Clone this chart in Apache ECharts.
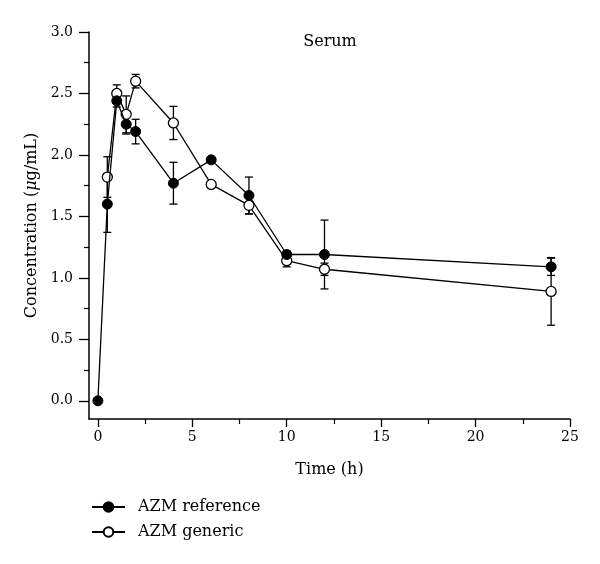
<!DOCTYPE html>
<html>
<head>
<meta charset="utf-8">
<script src="https://cdn.jsdelivr.net/npm/echarts@6/dist/echarts.min.js"></script>
<style>html,body{margin:0;padding:0;background:#fff}#c{width:600px;height:564px}</style>
</head>
<body>
<div id="c"></div>
<script>
const times = [0, 0.5, 1, 1.5, 2, 4, 6, 8, 10, 12, 24];
const refMean = [0.0, 1.60, 2.44, 2.25, 2.19, 1.77, 1.96, 1.67, 1.19, 1.19, 1.09];
const refSD   = [0, 0.23, 0.05, 0.08, 0.10, 0.17, 0, 0.15, 0.03, 0.28, 0.07];
const genTimes = [0.5, 1, 1.5, 2, 4, 6, 8, 10, 12, 24];
const genMean = [1.82, 2.50, 2.33, 2.60, 2.26, 1.76, 1.59, 1.14, 1.07, 0.89];
const genSD   = [0.165, 0.07, 0.15, 0.055, 0.135, 0, 0.07, 0.05, 0.05, 0.275];
const xMajor = [0, 5, 10, 15, 20, 25];
const xMinor = [2.5, 7.5, 12.5, 17.5, 22.5];
const yMajor = [0, 0.5, 1.0, 1.5, 2.0, 2.5, 3.0];
const yMinor = [0.25, 0.75, 1.25, 1.75, 2.25, 2.75];

const FONT = '"DejaVu Serif", "Liberation Serif", serif';
const X_MIN = -0.47, X_MAX = 25, Y_MIN = -0.148, Y_MAX = 3.0;

function errData(ts, m, s) {
  const out = [];
  ts.forEach((t, i) => { if (s[i] > 0) out.push([t, m[i] - s[i], m[i] + s[i]]); });
  return out;
}
function errSeries(data, z) {
  return {
    type: 'custom', xAxisIndex: 0, yAxisIndex: 0, z: z, silent: true,
    renderItem: function (params, api) {
      const x = api.value(0);
      const lo = api.coord([x, api.value(1)]);
      const hi = api.coord([x, api.value(2)]);
      const w = 4;
      const st = { stroke: '#000', lineWidth: 1.3 };
      return { type: 'group', children: [
        { type: 'line', shape: { x1: lo[0], y1: lo[1], x2: hi[0], y2: hi[1] }, style: st },
        { type: 'line', shape: { x1: lo[0] - w, y1: lo[1], x2: lo[0] + w, y2: lo[1] }, style: st },
        { type: 'line', shape: { x1: hi[0] - w, y1: hi[1], x2: hi[0] + w, y2: hi[1] }, style: st }
      ]};
    },
    data: data
  };
}

const chart = echarts.init(document.getElementById('c'), null, { renderer: 'canvas' });
chart.setOption({
  animation: false,
  backgroundColor: '#fff',
  textStyle: { fontFamily: FONT, color: '#000' },
  title: {
    text: 'Serum', left: 330, top: 34, textAlign: 'center', padding: 0,
    textStyle: { fontFamily: FONT, fontSize: 16, fontWeight: 'normal', color: '#000' }
  },
  legend: {
    orient: 'vertical', left: 91, top: 499, padding: 0, itemWidth: 33, itemHeight: 12, itemGap: 9,
    data: ['AZM reference', 'AZM generic'],
    textStyle: { fontFamily: FONT, fontSize: 16, color: '#000', padding: [0, 0, 0, 8] }
  },
  grid: { left: 89, right: 30, top: 32, bottom: 145 },
  xAxis: [
    {
      type: 'value', min: X_MIN, max: X_MAX,
      name: 'Time (h)', nameLocation: 'middle', nameGap: 43,
      nameTextStyle: { fontFamily: FONT, fontSize: 16, color: '#000' },
      axisLine: { onZero: false, lineStyle: { color: '#000', width: 1.5 } },
      axisTick: { show: true, length: 8, lineStyle: { color: '#000', width: 1.3 }, customValues: xMajor },
      axisLabel: { customValues: xMajor, fontFamily: FONT, fontSize: 14, color: '#000', margin: 11 },
      splitLine: { show: false }
    },
    {
      type: 'value', min: X_MIN, max: X_MAX, position: 'bottom',
      axisLine: { show: false, onZero: false },
      axisTick: { show: true, length: 5, lineStyle: { color: '#000', width: 1.2 }, customValues: xMinor },
      axisLabel: { show: false },
      splitLine: { show: false }
    }
  ],
  yAxis: [
    {
      type: 'value', min: Y_MIN, max: Y_MAX,
      name: 'Concentration ({i|μ}g/mL)', nameLocation: 'middle', nameGap: 49,
      nameTextStyle: { fontFamily: FONT, fontSize: 16, color: '#000',
        rich: { i: { fontFamily: FONT, fontSize: 16, fontStyle: 'italic', color: '#000' } } },
      axisLine: { show: true, onZero: false, lineStyle: { color: '#000', width: 1.5 } },
      axisTick: { show: true, length: 10, lineStyle: { color: '#000', width: 1.3 }, customValues: yMajor },
      axisLabel: { customValues: yMajor, fontFamily: FONT, fontSize: 14, color: '#000', margin: 16,
        formatter: v => v.toFixed(1) },
      splitLine: { show: false }
    },
    {
      type: 'value', min: Y_MIN, max: Y_MAX, position: 'left',
      axisLine: { show: false, onZero: false },
      axisTick: { show: true, length: 5, lineStyle: { color: '#000', width: 1.2 }, customValues: yMinor },
      axisLabel: { show: false },
      splitLine: { show: false }
    }
  ],
  series: [
    errSeries(errData(genTimes, genMean, genSD), 2),
    errSeries(errData(times, refMean, refSD), 2),
    {
      name: 'AZM generic', type: 'line', xAxisIndex: 0, yAxisIndex: 0, z: 3,
      data: genTimes.map((t, i) => [t, genMean[i]]),
      symbol: 'circle', symbolSize: 10,
      lineStyle: { color: '#000', width: 1.3 },
      itemStyle: { color: '#fff', borderColor: '#000', borderWidth: 1.3 }
    },
    {
      name: 'AZM reference', type: 'line', xAxisIndex: 0, yAxisIndex: 0, z: 4,
      data: times.map((t, i) => [t, refMean[i]]),
      symbol: 'circle', symbolSize: 10,
      lineStyle: { color: '#000', width: 1.3 },
      itemStyle: { color: '#000', borderColor: '#000', borderWidth: 1 }
    }
  ]
});
</script>
</body>
</html>
